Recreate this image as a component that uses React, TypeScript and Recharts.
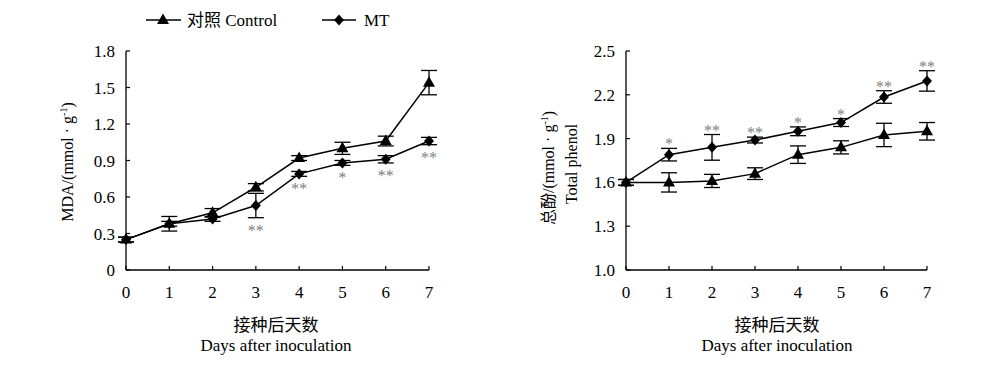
import React from 'react';
import { LineChart, Line, XAxis, YAxis, ErrorBar, LabelList } from 'recharts';

const days = [0, 1, 2, 3, 4, 5, 6, 7];

// MDA (left panel)
const mdaControl = [0.25, 0.38, 0.47, 0.68, 0.92, 1.0, 1.06, 1.54];
const mdaControlErr = [0.02, 0.06, 0.035, 0.03, 0.02, 0.05, 0.04, 0.1];
const mdaMT = [0.25, 0.38, 0.42, 0.53, 0.79, 0.88, 0.91, 1.06];
const mdaMTErr = [0.02, 0.02, 0.02, 0.1, 0.02, 0.02, 0.03, 0.03];
const mdaSig = ['', '', '', '**', '**', '*', '**', '**'];
const mdaTicks = [0, 0.3, 0.6, 0.9, 1.2, 1.5, 1.8];

// Total phenol (right panel)
const phControl = [1.6, 1.6, 1.61, 1.66, 1.79, 1.84, 1.925, 1.95];
const phControlErr = [0.02, 0.066, 0.045, 0.04, 0.06, 0.045, 0.08, 0.06];
const phMT = [1.6, 1.79, 1.84, 1.89, 1.95, 2.01, 2.185, 2.295];
const phMTErr = [0.02, 0.043, 0.088, 0.02, 0.03, 0.027, 0.043, 0.07];
const phSig = ['', '*', '**', '**', '*', '*', '**', '**'];
const phTicks = [1.0, 1.3, 1.6, 1.9, 2.2, 2.5];

const FONT = "'Liberation Serif', 'Times New Roman', 'Noto Sans CJK SC', serif";
const PLOT_H = 219;

const mdaData = days.map((d, i) => ({ day: d, control: mdaControl[i], controlErr: mdaControlErr[i], mt: mdaMT[i], mtErr: mdaMTErr[i], sig: mdaSig[i] }));
const phData = days.map((d, i) => ({ day: d, control: phControl[i], controlErr: phControlErr[i], mt: phMT[i], mtErr: phMTErr[i], sig: phSig[i] }));

const Triangle = (p: any) => {
  const { cx, cy } = p;
  if (cx == null || cy == null) return null;
  return <path d={`M${cx},${cy - 6.5} L${cx + 6},${cy + 4} L${cx - 6},${cy + 4} Z`} fill="#000" />;
};
const Diamond = (p: any) => {
  const { cx, cy } = p;
  if (cx == null || cy == null) return null;
  return <path d={`M${cx},${cy - 5.5} L${cx + 5},${cy} L${cx},${cy + 5.5} L${cx - 5},${cy} Z`} fill="#000" />;
};

function sigLabel(errs: number[], ppu: number, below: boolean) {
  return (p: any) => {
    const { x, y, value, index } = p;
    if (!value) return null;
    const e = (errs[index] || 0) * ppu;
    const cy = below ? y + e + 10 : y - e - 7;
    return <text x={x} y={cy + 8} textAnchor="middle" fill="#808080" fontSize={16} fontFamily={FONT}
      style={{ WebkitFontSmoothing: 'antialiased' } as any}>{value}</text>;
  };
}

const XLabel = (cx: number) => () => (
  <g fontFamily={FONT} fill="#000">
    <text x={cx} y={331} textAnchor="middle" fontSize={17}>接种后天数</text>
    <text x={cx} y={351} textAnchor="middle" fontSize={17}>Days after inoculation</text>
  </g>
);

function Panel({ data, domain, ticks, errsMT, sigBelow, yLabel, xCenter, right }: any) {
  const ppu = PLOT_H / (domain[1] - domain[0]);
  return (
    <LineChart width={500} height={371} data={data} margin={{ top: 51, right, bottom: 71, left: 66 }} style={{ fontFamily: FONT }}>
      <XAxis dataKey="day" type="number" domain={[0, 7]} ticks={days} height={30}
        axisLine={{ stroke: '#000', strokeWidth: 1.3 }} tickLine={{ stroke: '#000', strokeWidth: 1.2 }}
        tickSize={-4} tickMargin={20} tick={{ fill: '#000', fontSize: 17, fontFamily: FONT }}
        label={XLabel(xCenter)} />
      <YAxis type="number" domain={domain} ticks={ticks} width={60} interval={0}
        tickFormatter={(v: number) => (v === 0 ? '0' : v.toFixed(1))}
        axisLine={{ stroke: '#000', strokeWidth: 1.3 }} tickLine={{ stroke: '#000', strokeWidth: 1.2 }}
        tickSize={-4} tickMargin={15} tick={{ fill: '#000', fontSize: 17, fontFamily: FONT }}
        label={yLabel} />
      <Line dataKey="control" stroke="#000" strokeWidth={1.5} dot={<Triangle />} activeDot={false} isAnimationActive={false}>
        <ErrorBar dataKey="controlErr" width={8} stroke="#000" strokeWidth={1.3} direction="y" />
      </Line>
      <Line dataKey="mt" stroke="#000" strokeWidth={1.5} dot={<Diamond />} activeDot={false} isAnimationActive={false}>
        <ErrorBar dataKey="mtErr" width={8} stroke="#000" strokeWidth={1.3} direction="y" />
        <LabelList dataKey="sig" content={sigLabel(errsMT, ppu, sigBelow)} />
      </Line>
    </LineChart>
  );
}

const mdaYLabel = () => (
  <text transform="translate(73,162) rotate(-90)" textAnchor="middle" fontSize={16} fontFamily={FONT} fill="#000">
    MDA/(mmol · g<tspan dy={-6} fontSize={10}>-1</tspan><tspan dy={6}>)</tspan>
  </text>
);
const phYLabel = () => (
  <g fontFamily={FONT} fill="#000" fontSize={16}>
    <text transform="translate(54,168) rotate(-90)" textAnchor="middle">
      总酚/(mmol · g<tspan dy={-6} fontSize={10}>-1</tspan><tspan dy={6}>)</tspan>
    </text>
    <text transform="translate(77,164) rotate(-90)" textAnchor="middle">Total phenol</text>
  </g>
);

function LegendBox() {
  return (
    <svg width={500} height={40} style={{ position: 'absolute', left: 0, top: 0 }} fontFamily={FONT}>
      <line x1={146} y1={20} x2={181} y2={20} stroke="#000" strokeWidth={1.5} />
      <Triangle cx={163} cy={20} />
      <text x={187} y={26} fontSize={17} fill="#000">对照 Control</text>
      <line x1={322} y1={20} x2={356} y2={20} stroke="#000" strokeWidth={1.5} />
      <Diamond cx={339} cy={20} />
      <text x={364} y={26} fontSize={17} fill="#000">MT</text>
    </svg>
  );
}

export default function App() {
  return (
    <div style={{ position: 'absolute', left: 0, top: 0, width: 1000, height: 371, background: '#fff' }}>
      <div style={{ position: 'absolute', left: 0, top: 0 }}>
        <Panel data={mdaData} domain={[0, 1.8]} ticks={mdaTicks} errsMT={mdaMTErr} sigBelow={true} yLabel={mdaYLabel} xCenter={276} right={71} />
      </div>
      <div style={{ position: 'absolute', left: 500, top: 0 }}>
        <Panel data={phData} domain={[1.0, 2.5]} ticks={phTicks} errsMT={phMTErr} sigBelow={false} yLabel={phYLabel} xCenter={277} right={73} />
      </div>
      <LegendBox />
    </div>
  );
}
